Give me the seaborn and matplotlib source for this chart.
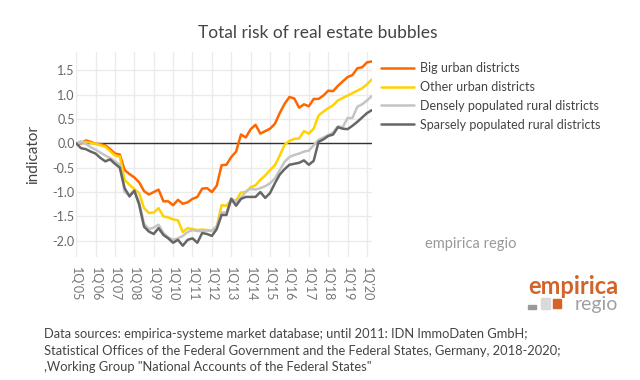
import matplotlib
matplotlib.use("Agg")
import matplotlib.pyplot as plt
from matplotlib.patches import Rectangle
import seaborn as sns
import pandas as pd
import numpy as np

years = ["05", "06", "07", "08", "09", "10", "11", "12", "13", "14", "15", "16", "17", "18", "19", "20"]
tick_labels = ["1Q'" + y for y in years]
quarters = [f"{q}Q{y}" for y in years for q in (1, 2, 3, 4)][:62]

big_urban = [0.0, 0.0, 0.06, 0.03, -0.01, -0.02, -0.04, -0.12, -0.21, -0.23,
             -0.55, -0.63, -0.7, -0.8, -0.98, -1.05, -1.0, -0.95, -1.19, -1.19,
             -1.27, -1.16, -1.24, -1.21, -1.14, -1.1, -0.93, -0.92, -1.0, -0.87,
             -0.45, -0.44, -0.28, -0.17, 0.18, 0.12, 0.29, 0.38, 0.2, 0.25,
             0.3, 0.4, 0.62, 0.81, 0.95, 0.92, 0.73, 0.8, 0.76, 0.91,
             0.91, 0.98, 1.08, 1.07, 1.18, 1.27, 1.36, 1.4, 1.54, 1.56,
             1.66, 1.68]
other_urban = [0.0, 0.02, 0.03, 0.01, -0.01, -0.04, -0.07, -0.16, -0.25, -0.27,
               -0.75, -0.85, -0.94, -1.02, -1.33, -1.43, -1.42, -1.33, -1.5, -1.52,
               -1.56, -1.58, -1.82, -1.74, -1.76, -1.78, -1.77, -1.78, -1.79, -1.71,
               -1.27, -1.28, -1.16, -1.17, -1.01, -1.0, -0.9, -0.86, -0.75, -0.66,
               -0.55, -0.45, -0.25, -0.03, 0.05, 0.09, 0.1, 0.25, 0.2, 0.3,
               0.57, 0.65, 0.72, 0.78, 0.88, 0.93, 0.98, 1.03, 1.08, 1.13,
               1.21, 1.31]
dense_rural = [0.0, 0.04, -0.01, -0.08, -0.13, -0.19, -0.25, -0.3, -0.37, -0.44,
               -1.0, -1.06, -0.98, -1.2, -1.65, -1.76, -1.73, -1.67, -1.84, -1.93,
               -1.98, -1.95, -1.9, -1.82, -1.78, -1.8, -1.8, -1.79, -1.8, -1.7,
               -1.42, -1.42, -1.13, -1.2, -1.12, -0.99, -0.93, -0.95, -0.92, -0.88,
               -0.82, -0.72, -0.55, -0.38, -0.28, -0.24, -0.21, -0.17, -0.15, -0.04,
               0.07, 0.12, 0.17, 0.22, 0.35, 0.33, 0.52, 0.52, 0.75, 0.8,
               0.88, 0.97]
sparse_rural = [0.0, -0.1, -0.12, -0.17, -0.21, -0.3, -0.37, -0.33, -0.42, -0.5,
                -0.92, -1.09, -0.97, -1.26, -1.71, -1.81, -1.86, -1.74, -1.88, -1.95,
                -2.04, -1.98, -2.1, -1.98, -1.95, -2.04, -1.84, -1.86, -1.9, -1.76,
                -1.47, -1.47, -1.14, -1.28, -1.14, -1.1, -1.1, -1.1, -1.0, -1.12,
                -1.02, -0.82, -0.64, -0.53, -0.44, -0.42, -0.4, -0.35, -0.44, -0.36,
                0.03, 0.08, 0.15, 0.18, 0.33, 0.3, 0.29, 0.36, 0.44, 0.53,
                0.62, 0.68]

series_names = ["Big urban districts", "Other urban districts",
                "Densely populated rural districts", "Sparsely populated rural districts"]
series_values = [big_urban, other_urban, dense_rural, sparse_rural]
colors = ["#ff6600", "#ffd200", "#c4c4c4", "#666666"]

frames = []
for name, vals in zip(series_names, series_values):
    frames.append(pd.DataFrame({"t": np.arange(len(vals)), "value": vals,
                                "quarter": quarters[:len(vals)], "series": name}))
df = pd.concat(frames, ignore_index=True)

sns.set_theme(style="white")
plt.rcParams["font.family"] = ["Lato", "DejaVu Sans"]

fig = plt.figure(figsize=(6.4, 3.8), dpi=100)
ax = fig.add_axes([0.119, 0.324, 0.462, 0.54])

text_col = "#444444"
tick_col = "#666666"

ax.axhline(0, color="#333333", lw=1.0, zorder=1)
sns.lineplot(data=df, x="t", y="value", hue="series", hue_order=series_names,
             palette=colors, linewidth=1.8, ax=ax, legend=False, zorder=3)

ax.set_xlim(0, 61)
ax.set_ylim(-2.33, 1.88)
ax.set_xticks(np.arange(0, 61, 4))
ax.set_xticklabels(tick_labels, rotation=-90, fontsize=9, color="#777777")
ax.set_yticks([-2.0, -1.5, -1.0, -0.5, 0.0, 0.5, 1.0, 1.5])
ax.set_yticklabels(["-2.0", "-1.5", "-1.0", "-0.5", "0.0", "0.5", "1.0", "1.5"],
                   fontsize=9, color=tick_col)
ax.tick_params(axis="y", length=0, pad=1)
ax.tick_params(axis="x", length=0, pad=7)
ax.grid(True, color="#ebebeb", lw=1.0)
for s in ax.spines.values():
    s.set_visible(False)
ax.set_xlabel("")
ax.set_ylabel("indicator", fontsize=11, color=text_col, labelpad=9)

fig.text(0.497, 0.912, "Total risk of real estate bubbles", ha="center", va="center",
         fontsize=12.5, color=text_col)

handles = [plt.Line2D([0], [0], color=c, lw=1.8) for c in colors]
fig.legend(handles, series_names, loc="upper left", bbox_to_anchor=(0.588, 0.85),
           frameon=False, fontsize=9, labelcolor=text_col, handlelength=2.6,
           handletextpad=0.5, labelspacing=0.55, borderaxespad=0)

fig.text(0.735, 0.358, "empirica regio", ha="center", va="center", fontsize=10.5,
         color="#999999")

fig.text(0.966, 0.247, "empirica", ha="right", va="center", fontsize=17,
         color="#d2642a", fontweight="bold")
fig.text(0.966, 0.198, "regio", ha="right", va="center", fontsize=14,
         color="#a0a0a0")
fig.add_artist(Rectangle((0.825, 0.187), 0.012, 0.01, transform=fig.transFigure,
                         color="#9a9a9a"))
fig.add_artist(Rectangle((0.845, 0.187), 0.014, 0.028, transform=fig.transFigure,
                         color="#d9d9d9"))
fig.add_artist(Rectangle((0.864, 0.189), 0.013, 0.024, transform=fig.transFigure,
                         color="#d2642a"))

footer = ["Data sources: empirica-systeme market database; until 2011: IDN ImmoDaten GmbH;",
          "Statistical Offices of the Federal Government and the Federal States, Germany, 2018-2020;",
          ",Working Group \"National Accounts of the Federal States\""]
for k, line in enumerate(footer):
    fig.text(0.069, 0.121 - k * 0.044, line, ha="left", va="center", fontsize=9.3,
             color=text_col)

fig.savefig("out.png", dpi=100)
